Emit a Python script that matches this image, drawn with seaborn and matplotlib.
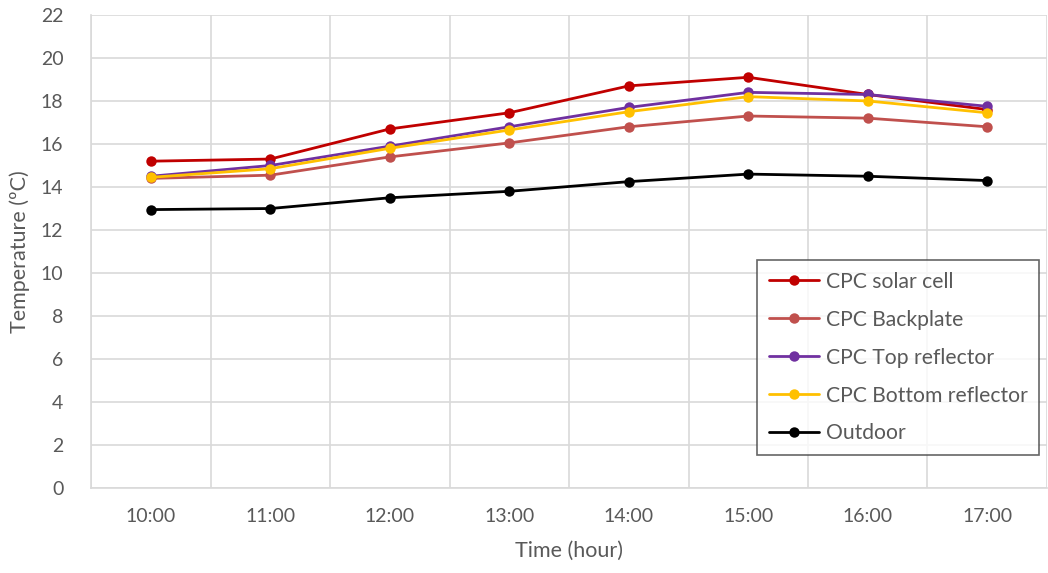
import matplotlib
matplotlib.use("Agg")
import matplotlib.pyplot as plt
import seaborn as sns
import pandas as pd

hours = ["10:00", "11:00", "12:00", "13:00", "14:00", "15:00", "16:00", "17:00"]
solar_cell = [15.2, 15.3, 16.7, 17.45, 18.7, 19.1, 18.3, 17.6]
backplate = [14.4, 14.55, 15.4, 16.05, 16.8, 17.3, 17.2, 16.8]
top_reflector = [14.5, 15.0, 15.9, 16.8, 17.7, 18.4, 18.3, 17.75]
bottom_reflector = [14.45, 14.85, 15.8, 16.65, 17.5, 18.2, 18.0, 17.45]
outdoor = [12.95, 13.0, 13.5, 13.8, 14.25, 14.6, 14.5, 14.3]

series_names = ["CPC solar cell", "CPC Backplate", "CPC Top reflector",
                "CPC Bottom reflector", "Outdoor"]
series_values = [solar_cell, backplate, top_reflector, bottom_reflector, outdoor]
colors = ["#C00000", "#C0504D", "#7030A0", "#FFC000", "#000000"]

rows = []
for name, vals in zip(series_names, series_values):
    for i, (h, v) in enumerate(zip(hours, vals)):
        rows.append({"pos": i, "hour": h, "series": name, "temp": v})
df = pd.DataFrame(rows)

sns.set_theme(style="whitegrid")
plt.rcParams["font.family"] = ["Lato", "DejaVu Sans"]
txt = "#595959"

fig = plt.figure(figsize=(10.48, 5.73), dpi=100)
ax = fig.add_axes([0.087, 0.148, 0.912, 0.826])

sns.lineplot(data=df, x="pos", y="temp", hue="series", hue_order=series_names,
             palette=colors, marker="o", markersize=7.5, markeredgewidth=0,
             linewidth=2.0, ax=ax, legend=True)

ax.set_xlim(-0.5, 7.5)
ax.set_ylim(0, 22)
ax.set_yticks(range(0, 23, 2))
ax.set_xticks(range(len(hours)))
ax.set_xticklabels(hours)
ax.xaxis.set_minor_locator(matplotlib.ticker.FixedLocator([i + 0.5 for i in range(-1, 8)]))
ax.grid(False, which="major", axis="x")
ax.grid(True, which="minor", axis="x", color="#d9d9d9", linewidth=1.2)
ax.grid(True, which="major", axis="y", color="#d9d9d9", linewidth=1.2)
ax.tick_params(axis="both", which="both", length=0, labelsize=14, colors=txt)
ax.tick_params(axis="y", pad=20)
ax.tick_params(axis="x", pad=14)
for s in ["top", "right"]:
    ax.spines[s].set_visible(False)
for s in ["left", "bottom"]:
    ax.spines[s].set_color("#d9d9d9")
    ax.spines[s].set_linewidth(1.2)

ax.set_xlabel("Time (hour)", fontsize=15.5, color=txt, labelpad=12)
ax.set_ylabel("Temperature (ºC)", fontsize=15.5, color=txt, labelpad=8)

handles, labels = ax.get_legend_handles_labels()
leg = ax.legend(handles, labels, loc="lower right", bbox_to_anchor=(0.992, 0.07),
                fontsize=15.2, frameon=True, fancybox=False, handlelength=2.4,
                labelspacing=0.85, handletextpad=0.3, borderpad=0.55,
                borderaxespad=0)
leg.get_frame().set_edgecolor("#404040")
leg.get_frame().set_linewidth(1.2)
for t in leg.get_texts():
    t.set_color(txt)

fig.savefig("out.png", dpi=100)
